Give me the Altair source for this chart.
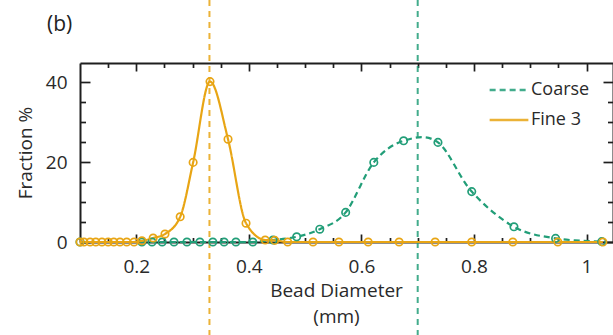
import altair as alt
import pandas as pd

# ---- data ----
series_names = ["Coarse", "Fine 3"]
series_colors = ["#229E78", "#E8A514"]

coarse_x = [0.100, 0.210, 0.228, 0.246, 0.267, 0.290, 0.313, 0.336, 0.356, 0.377,
            0.407, 0.443, 0.485, 0.526, 0.572, 0.622, 0.675, 0.736, 0.796, 0.871,
            0.945, 1.027]
coarse_y = [0, 0, 0, 0, 0, 0, 0, 0, 0, 0,
            0, 0.5, 1.3, 3.2, 7.4, 19.9, 25.3, 24.9, 12.6, 3.8,
            0.9, 0.1]

fine_x = [0.100, 0.107, 0.118, 0.128, 0.139, 0.150, 0.160, 0.171, 0.183, 0.196,
          0.210, 0.230, 0.251, 0.278, 0.301, 0.331, 0.363, 0.395, 0.429, 0.446,
          0.469, 0.514, 0.560, 0.612, 0.667, 0.731, 0.796, 0.869, 0.949, 1.029]
fine_y = [0, 0, 0, 0, 0, 0, 0, 0, 0, 0,
          0.3, 1.0, 2.0, 6.3, 19.9, 40.1, 25.7, 4.7, 0.5, 0.4,
          0, 0, 0, 0, 0, 0, 0, 0, 0, 0]

medians = [0.70, 0.33]

x_labels = [0.2, 0.4, 0.6, 0.8, 1.0]
x_ticks = [0.15, 0.2, 0.25, 0.3, 0.35, 0.4, 0.45, 0.5, 0.55, 0.6, 0.65, 0.7,
           0.75, 0.8, 0.85, 0.9, 0.95, 1.0]
y_labels = [0, 20, 40]
y_ticks = [0, 5, 10, 15, 20, 25, 30, 35, 40]

x_domain = [0.1, 1.047]
y_domain = [0, 44.75]

FONT = "Open Sans"
W, H = 533, 179
PAD_L, PAD_T, PAD_R, PAD_B = 80, 63, 0, 93
INK = "#1e1e1e"
TXT = "#2a2a2a"

df = pd.DataFrame({
    "x": coarse_x + fine_x,
    "y": coarse_y + fine_y,
    "series": ["Coarse"] * len(coarse_x) + ["Fine 3"] * len(fine_x),
})
rule_df = pd.DataFrame({"series": series_names, "median": medians})

xs = alt.Scale(domain=x_domain, nice=False, zero=False)
ys = alt.Scale(domain=y_domain, nice=False, zero=False)
cscale = alt.Scale(domain=series_names, range=series_colors)
dscale = alt.Scale(domain=series_names, range=[[6, 4], [1, 0]])

leg = dict(title=None, orient="none", legendX=408, legendY=6,
           symbolType="stroke", symbolSize=1500, symbolStrokeWidth=2.4,
           labelFont=FONT, labelFontSize=18, labelColor=TXT,
           rowPadding=-15, padding=0, labelOffset=1)

xmaj = "abs(datum.value*5 - round(datum.value*5)) < 0.001"
ymaj = "datum.value % 20 === 0"
xts = {"condition": {"test": xmaj, "value": 8}, "value": 4.5}
yts = {"condition": {"test": ymaj, "value": 10}, "value": 5.5}

tick_common = dict(labels=False, grid=False, tickColor=INK, tickWidth=1.7,
                   domainColor=INK, domainWidth=2, title=None)

# labelled axes (bottom frame + left frame)
x_lab = alt.Axis(orient="bottom", values=x_labels, ticks=False, tickSize=0,
                 format=".1~f",
                 labelFont=FONT, labelFontSize=19, labelColor=TXT,
                 labelPadding=15, domainColor=INK, domainWidth=2, grid=False,
                 title=["Bead Diameter", "(mm)"], titleFont=FONT,
                 titleFontSize=19, titleFontWeight="normal", titleColor=TXT,
                 titlePadding=5, titleLineHeight=26, titleX=256, labelFlush=False)
y_lab = alt.Axis(orient="left", values=y_labels, ticks=False, tickSize=0,
                 labelFont=FONT, labelFontSize=19, labelColor=TXT,
                 labelPadding=13, domainColor=INK, domainWidth=2, grid=False,
                 title="Fraction %", titleFont=FONT, titleFontSize=19,
                 titleFontWeight="normal", titleColor=TXT, titlePadding=10)

# inward ticks on the bottom edge and left edge
x_in_bottom = alt.Axis(orient="top", offset=-H, values=x_ticks, tickSize=xts,
                       domain=False, **tick_common)
y_in_left = alt.Axis(orient="right", offset=-W, values=y_ticks, tickSize=yts,
                     domain=False, **tick_common)
# inward ticks on the top edge and right edge, with the frame lines
x_in_top = alt.Axis(orient="bottom", offset=-H, values=x_ticks, tickSize=xts,
                    domain=True, **tick_common)
y_in_right = alt.Axis(orient="left", offset=-W, values=y_ticks, tickSize=yts,
                      domain=True, **tick_common)

base = alt.Chart(df)
color_enc = alt.Color("series:N", scale=cscale, legend=alt.Legend(**leg))
dash_enc = alt.StrokeDash("series:N", scale=dscale, legend=alt.Legend(**leg))

coarse_line = base.transform_filter(alt.datum.series == "Coarse").mark_line(
    strokeWidth=2.2, interpolate="cardinal", clip=False
).encode(
    x=alt.X("x:Q", scale=xs, axis=x_lab),
    y=alt.Y("y:Q", scale=ys, axis=y_lab),
    color=color_enc,
    strokeDash=dash_enc,
    order=alt.Order("x:Q"),
)

fine_line = base.transform_filter(alt.datum.series == "Fine 3").mark_line(
    strokeWidth=2.2, interpolate="monotone", clip=False
).encode(
    x=alt.X("x:Q", scale=xs, axis=None),
    y=alt.Y("y:Q", scale=ys, axis=None),
    color=color_enc,
    strokeDash=dash_enc,
    order=alt.Order("x:Q"),
)

points = base.mark_point(filled=False, size=55, strokeWidth=1.7, opacity=1).encode(
    x=alt.X("x:Q", scale=xs, axis=x_in_bottom),
    y=alt.Y("y:Q", scale=ys, axis=y_in_left),
    color=color_enc,
)

frame = base.mark_point(opacity=0).encode(
    x=alt.X("x:Q", scale=xs, axis=x_in_top),
    y=alt.Y("y:Q", scale=ys, axis=y_in_right),
)

rules = alt.Chart(rule_df).mark_rule(strokeDash=[6, 5], strokeWidth=2, opacity=0.85).encode(
    x=alt.X("median:Q", scale=xs, axis=None),
    y=alt.value(-PAD_T),
    y2=alt.value(H + PAD_B),
    color=color_enc,
)

chart = alt.layer(rules, coarse_line, fine_line, points, frame).resolve_axis(
    x="independent", y="independent"
).properties(
    width=W, height=H,
    autosize=alt.AutoSizeParams(type="none"),
    padding={"left": PAD_L, "top": PAD_T, "right": PAD_R, "bottom": PAD_B},
    title=alt.TitleParams("(b)", anchor="start", frame="group", dx=-33, dy=40,
                          font=FONT, fontSize=21, fontWeight="normal",
                          color="#222222"),
).configure_view(stroke=None)

chart.save("out.html", embed_options={"renderer": "svg", "actions": False})
